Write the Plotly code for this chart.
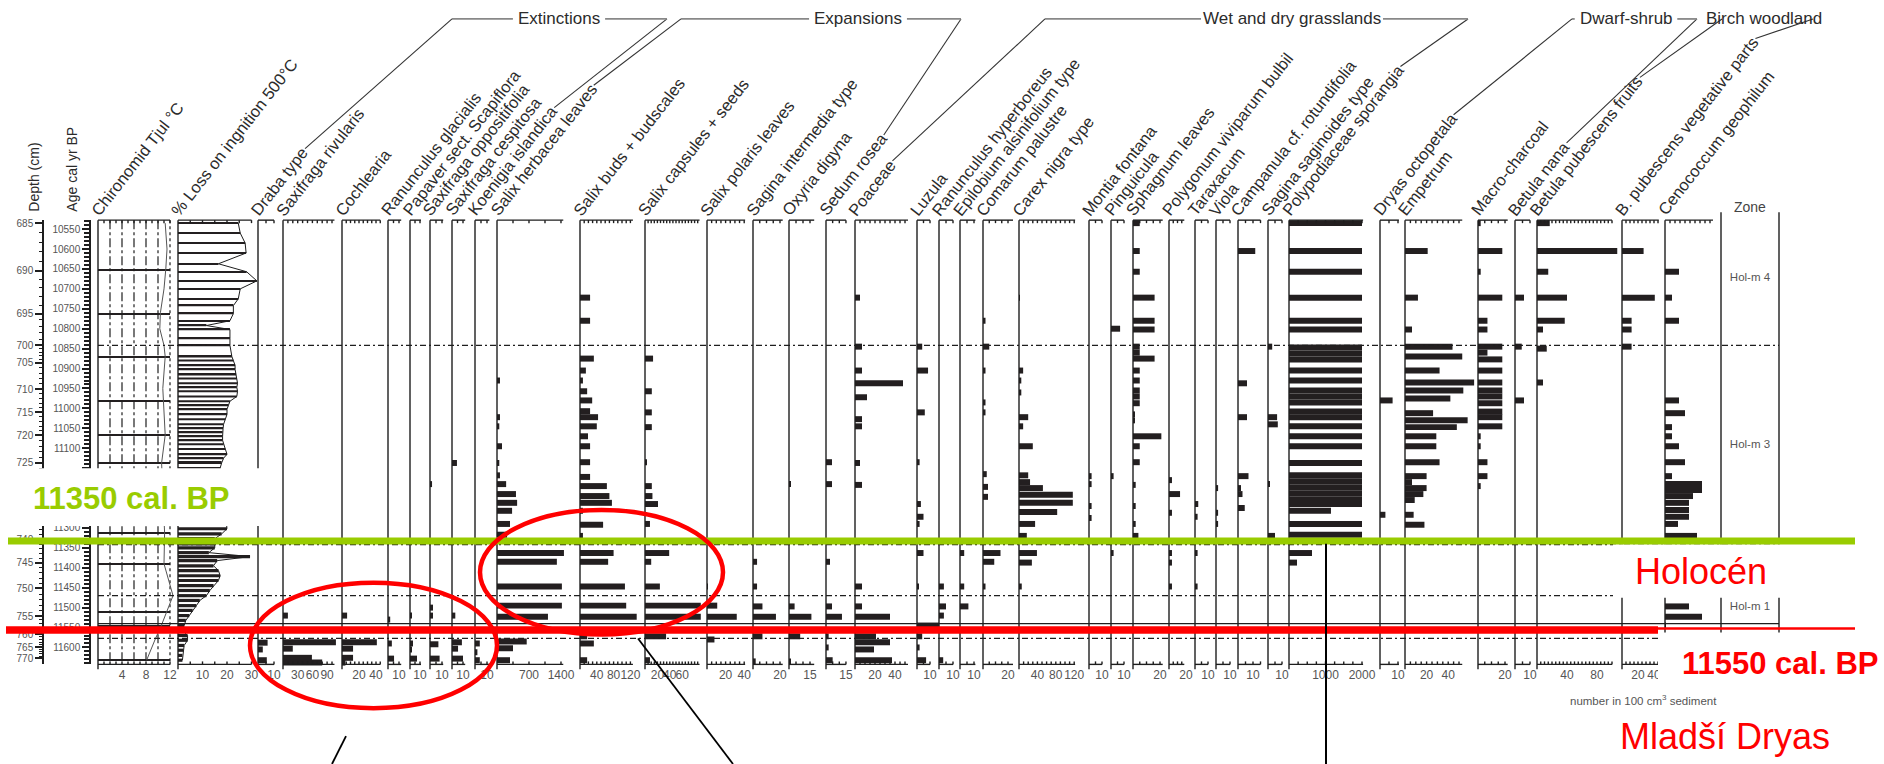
import numpy as np
import plotly.graph_objects as go

# ---------------------------------------------------------------
# Macrofossil record, Holocene / Younger Dryas transition.
# Every record is a list of (age cal yr BP, value) pairs.
# ---------------------------------------------------------------
chironomid_sample_ages = [10652, 10762, 10872, 10982, 11067, 11137, 11312, 11390, 11512, 11547, 11632]
chironomid_curve_ages = [10535, 10600, 10650, 10700, 10760, 10800, 10842, 10870, 10950, 11000,
                         11067, 11137, 11200, 11312, 11390, 11470, 11547, 11577, 11632]
chironomid_curve_temp = [11.2, 11.5, 11.3, 11.0, 10.4, 10.3, 11.0, 11.2, 10.8, 11.0,
                         11.2, 10.6, 10.8, 11.1, 11.0, 12.5, 10.5, 9.6, 8.1]

loi_ages = [10535, 10560, 10585, 10610, 10637, 10657, 10680, 10700, 10725, 10742,
            10762, 10780, 10792, 10802, 10825, 10842, 10870, 10880, 10892, 10902,
            10915, 10925, 10937, 10947, 10957, 10970, 10982, 10992, 11002, 11015,
            11027, 11040, 11050, 11060, 11070, 11080, 11090, 11102, 11115, 11125,
            11137, 11150, 11302, 11315, 11327, 11340, 11350, 11362, 11372, 11382,
            11395, 11407, 11420, 11432, 11445, 11457, 11470, 11482, 11495, 11507,
            11520, 11532, 11545, 11557, 11570, 11582, 11595, 11607, 11620, 11632]
loi_pct = [24.6, 25.4, 27.4, 27.8, 16.5, 28.0, 32.2, 25.4, 24.6, 22.6,
           22.6, 21.2, 11.6, 21.2, 21.2, 21.2, 22.0, 22.6, 23.3, 23.3,
           23.7, 24.0, 24.3, 24.0, 24.3, 24.0, 21.2, 20.6, 20.0, 20.0,
           19.3, 18.6, 18.4, 18.2, 18.2, 18.2, 18.6, 19.3, 20.0, 18.6,
           17.8, 17.2, 20.0, 17.8, 15.0, 15.0, 15.0, 12.6, 29.4, 16.0,
           14.5, 16.5, 17.2, 16.5, 14.5, 13.0, 11.6, 8.9, 7.5, 6.0,
           4.6, 3.2, 2.5, 1.8, 3.9, 3.9, 2.5, 2.2, 1.8, 1.8]

draba_type = [(11588, 6), (11605, 3), (11632, 5.5)]
saxifraga_rivularis = [(11520, 10), (11587, 108), (11603, 20), (11626, 59), (11638, 80)]
cochlearia = [(11520, 6), (11587, 41), (11603, 13), (11626, 13), (11638, 4)]
ranunculus_glacialis = [(11530, 2), (11590, 3.5), (11628, 5.5)]
papaver = [(11520, 2), (11590, 3), (11605, 2), (11628, 7)]
saxifraga_oppositifolia = [(11190, 1.7), (11500, 2.5), (11520, 2.5), (11592, 7), (11628, 8)]
saxifraga_cespitosa = [(11137, 4.5), (11520, 3), (11587, 9), (11603, 5.5), (11628, 10)]
koenigia = [(11590, 4), (11612, 2), (11632, 4)]
salix_herbacea = [(10930, 65), (11022, 65), (11045, 50), (11095, 110), (11137, 50), (11168, 65),
                  (11190, 200), (11215, 415), (11237, 440), (11257, 330), (11290, 285), (11317, 220),
                  (11363, 1465), (11385, 1310), (11447, 1420), (11495, 1420), (11523, 1115),
                  (11585, 650), (11602, 350), (11632, 285)]
salix_buds = [(10722, 24), (10780, 24), (10875, 33), (10905, 14), (10930, 7), (10957, 17), (10980, 29),
              (11007, 24), (11022, 43), (11045, 40), (11070, 19), (11095, 24), (11135, 24), (11172, 24),
              (11195, 64), (11220, 70), (11237, 76), (11257, 7), (11292, 55), (11320, 7), (11363, 80),
              (11385, 67), (11447, 107), (11495, 110), (11523, 135), (11572, 17), (11590, 33), (11632, 17)]
salix_capsules = [(10875, 13), (10957, 11), (11010, 11), (11047, 11), (11135, 3), (11195, 11), (11220, 12),
                  (11240, 21), (11290, 8), (11363, 39), (11385, 10), (11447, 24), (11495, 90), (11523, 90),
                  (11572, 34), (11632, 8)]
salix_polaris = [(11447, 1), (11495, 11), (11523, 32), (11580, 8)]
sagina_intermedia = [(11385, 3), (11447, 3), (11497, 7), (11523, 17), (11572, 7), (11635, 2)]
oxyria = [(11190, 1), (11497, 4), (11523, 16), (11572, 8), (11635, 1)]
sedum = [(11135, 4.5), (11190, 4.5), (11385, 3), (11497, 4.5), (11523, 12), (11572, 2), (11600, 2), (11632, 5)]
poaceae = [(10722, 5), (10845, 7), (10905, 7), (10937, 48), (10972, 12), (11027, 7), (11045, 7), (11137, 5),
           (11192, 7), (11447, 7), (11497, 7), (11523, 35), (11572, 21), (11587, 35), (11605, 19), (11632, 37)]
luzula = [(10845, 4), (10905, 8.5), (11010, 6), (11135, 2), (11240, 3), (11272, 5), (11290, 2), (11363, 5),
          (11447, 1), (11545, 17), (11572, 4), (11600, 2), (11632, 7)]
ranunculus_hyperboreus = [(11447, 3.5), (11497, 5), (11520, 3.5), (11632, 3)]
epilobium = [(11363, 3), (11447, 3), (11497, 6)]
comarum = [(10780, 2), (10845, 5), (10905, 2), (10985, 2), (11010, 2), (11165, 3), (11197, 4), (11222, 4),
           (11363, 14), (11385, 9), (11447, 2)]
carex_nigra = [(10722, 2), (10905, 9), (10930, 5), (10960, 5), (11022, 20), (11045, 9), (11095, 30), (11168, 20),
               (11185, 24), (11200, 52), (11217, 117), (11237, 117), (11260, 83), (11290, 35), (11320, 17),
               (11363, 39), (11387, 28), (11447, 6)]
montia = [(11170, 2), (11190, 2), (11245, 2), (11275, 2)]
pinguicula = [(10800, 7), (11170, 2), (11363, 2)]
sphagnum = [(10535, 5), (10605, 5), (10657, 5), (10722, 16), (10780, 16), (10802, 16), (10845, 5), (10860, 5),
            (10875, 16), (10905, 5), (10930, 5), (10955, 5), (10970, 5), (10987, 5), (11015, 1.5), (11030, 1.5),
            (11070, 21), (11095, 5), (11135, 5), (11192, 2), (11245, 2), (11290, 2), (11320, 4)]
polygonum = [(11180, 3.5), (11215, 13), (11262, 3.5), (11363, 3.5), (11387, 3.5), (11447, 3.5)]
taraxacum = [(11240, 2.5), (11272, 2), (11363, 2), (11447, 2)]
viola = [(11200, 1.5), (11262, 1.5), (11290, 1.5)]
campanula = [(10605, 11.5), (10937, 6), (11022, 6), (11170, 7), (11200, 2), (11215, 3), (11250, 4.5)]
sagina_saginoides = [(10845, 3), (11022, 6.5), (11040, 7), (11190, 1), (11320, 5)]
polypodiaceae = [(10535, 2000), (10605, 2000), (10657, 2000), (10722, 2000), (10780, 2000), (10802, 2000),
                 (10847, 2000), (10862, 2000), (10877, 2000), (10905, 2000), (10930, 2000), (10955, 2000),
                 (10970, 2000), (10985, 2000), (11008, 2000), (11022, 2000), (11045, 2000), (11070, 2000),
                 (11095, 2000), (11137, 2000), (11168, 2000), (11183, 2000), (11198, 2000), (11213, 2000),
                 (11228, 2000), (11240, 2000), (11257, 1150), (11290, 2000), (11317, 2000), (11363, 630),
                 (11387, 220)]
dryas = [(10980, 7), (11267, 3)]
empetrum = [(10605, 21), (10722, 12), (10802, 6.5), (10845, 44), (10870, 53), (10905, 32), (10935, 64),
            (10955, 54), (10975, 42), (11012, 26), (11030, 58), (11047, 48), (11070, 29), (11095, 29),
            (11135, 32), (11170, 20), (11185, 6.5), (11200, 20), (11215, 17), (11230, 9), (11267, 8), (11292, 18)]
macro_charcoal = [(10535, 2), (10605, 18), (10657, 2), (10722, 18), (10780, 7), (10802, 7), (10845, 18),
                  (10860, 7), (10877, 18), (10905, 18), (10935, 18), (10955, 18), (10970, 18), (10987, 18),
                  (11008, 18), (11022, 18), (11045, 18), (11070, 2), (11095, 2), (11135, 7), (11170, 7), (11195, 2)]
betula_nana = [(10722, 6), (10845, 4.5), (10980, 6)]
betula_pub_fruits = [(10535, 17), (10605, 107), (10657, 15), (10722, 40), (10780, 37), (10802, 8), (10850, 13),
                     (10935, 8)]
betula_pub_veg = [(10605, 27), (10722, 41), (10780, 12), (10802, 12), (10845, 12)]
cenococcum = [(10657, 28), (10722, 14), (10780, 28), (10980, 28), (11012, 40), (11047, 14), (11070, 14),
              (11095, 28), (11135, 40), (11170, 14), (11190, 74), (11205, 74), (11220, 56), (11237, 48),
              (11255, 48), (11272, 48), (11290, 26), (11320, 64), (11497, 48), (11523, 74), (11545, 2)]

# depth scale (cm) against age, and age ticks
depth_cm = [685, 690, 695, 700, 705, 710, 715, 720, 725, 730, 735, 740, 745, 750, 755, 760, 765, 770]
depth_age = [10535, 10655, 10762, 10842, 10885, 10952, 11010, 11067, 11137, 11200, 11265, 11330,
             11387, 11452, 11522, 11567, 11600, 11627]
age_ticks = list(range(10550, 11651, 50))

# zonation
zone_dashed_ages = [10842, 11342, 11470, 11577]
zone_solid_ages = [11540]
zone_names = ["Hol-m 4", "Hol-m 3", "Hol-m 1"]
zone_label_ages = [10672, 11092, 11500]

# ---------------------------------------------------------------
# page geometry (pixels) and helpers
# ---------------------------------------------------------------
W, H = 1884, 764
AGE_REF, PX_REF, PX_PER_YR = 10550, 227, 0.4
TOP_PX, BOT_PX = 218, 664
INK = "#1e1e1e"
BAR = "#231f20"
TXT = "#2b2b2b"
FONT = "Liberation Sans, Arial, Helvetica, sans-serif"


def age_at(p):
    return AGE_REF + (p - PX_REF) / PX_PER_YR


def fx(p):
    return p / W


def fy(p):
    return 1 - p / H


AGE_TOP, AGE_BOT = age_at(TOP_PX), age_at(BOT_PX)
BAR_YEARS = 15
# caption box on the left covers this age band
CAPTION_BAND = (age_at(467), age_at(525))

_CW = {' ': 278, 'a': 556, 'b': 556, 'c': 500, 'd': 556, 'e': 556, 'f': 278, 'g': 556, 'h': 556, 'i': 222,
       'j': 222, 'k': 500, 'l': 222, 'm': 833, 'n': 556, 'o': 556, 'p': 556, 'q': 556, 'r': 333, 's': 500,
       't': 278, 'u': 556, 'v': 500, 'w': 722, 'x': 500, 'y': 500, 'z': 500, 'A': 667, 'B': 667, 'C': 722,
       'D': 722, 'E': 667, 'K': 667, 'M': 833, 'O': 778, 'P': 667, 'R': 722, 'S': 667, 'T': 611, 'V': 667,
       '.': 278, '+': 584, '%': 889, '°': 400, '-': 333}


def text_len(s, size):
    return sum(_CW.get(c, 556) for c in s) * size / 1000.0


# panel: label, left edge px, px per unit, axis length, tick step, labelled ticks, record
PANELS = [
    ("Draba type", 258, 1.6, 10, 5, [10], draba_type),
    ("Saxifraga rivularis", 283, 0.49, 105, 10, [30, 60, 90], saxifraga_rivularis),
    ("Cochlearia", 342, 0.85, 45, 5, [20, 40], cochlearia),
    ("Ranunculus glacialis", 388, 1.1, 12, 5, [10], ranunculus_glacialis),
    ("Papaver sect. Scapiflora", 410, 1.0, 11, 5, [10], papaver),
    ("Saxifraga oppositifolia", 430, 1.2, 11, 5, [10], saxifraga_oppositifolia),
    ("Saxifraga cespitosa", 452, 1.1, 12, 5, [10], saxifraga_cespitosa),
    ("Koenigia islandica", 475, 1.2, 12, 5, [10], koenigia),
    ("Salix herbacea leaves", 497, 0.0457, 1450, 350, [700, 1400], salix_herbacea),
    ("Salix buds + budscales", 580, 0.42, 126, 10, [40, 80, 120], salix_buds),
    ("Salix capsules + seeds", 645, 0.62, 88, 5, [20, 40, 60], salix_capsules),
    ("Salix polaris leaves", 707, 0.93, 41, 5, [20, 40], salix_polaris),
    ("Sagina intermedia type", 753, 1.35, 22, 5, [20], sagina_intermedia),
    ("Oxyria digyna", 789, 1.4, 18, 5, [15], oxyria),
    ("Sedum rosea", 826, 1.33, 15, 5, [15], sedum),
    ("Poaceae", 855, 1.0, 53, 5, [20, 40], poaceae),
    ("Luzula", 917, 1.3, 10, 5, [10], luzula),
    ("Ranunculus hyperboreus", 939, 1.4, 10, 5, [10], ranunculus_hyperboreus),
    ("Epilobium alsinifolium type", 960, 1.4, 11, 5, [10], epilobium),
    ("Comarum palustre", 983, 1.25, 24, 5, [20], comarum),
    ("Carex nigra type", 1019, 0.46, 122, 10, [40, 80, 120], carex_nigra),
    ("Montia fontana", 1089, 1.3, 10, 5, [10], montia),
    ("Pinguicula", 1111, 1.3, 10, 5, [10], pinguicula),
    ("Sphagnum leaves", 1133, 1.35, 22, 5, [20], sphagnum),
    ("Polygonum viviparum bulbil", 1169, 0.85, 18, 5, [20], polygonum),
    ("Taraxacum", 1195, 1.3, 10, 5, [10], taraxacum),
    ("Viola", 1216, 1.4, 10, 5, [10], viola),
    ("Campanula cf. rotundifolia", 1238, 1.5, 15, 5, [10], campanula),
    ("Sagina saginoides type", 1268, 1.4, 10, 5, [10], sagina_saginoides),
    ("Polypodiaceae sporangia", 1289, 0.0365, 2030, 250, [1000, 2000], polypodiaceae),
    ("Dryas octopetala", 1380, 1.8, 10.5, 5, [10], dryas),
    ("Empetrum", 1405, 1.08, 53, 5, [20, 40], empetrum),
    ("Macro-charcoal", 1478, 1.35, 22, 5, [20], macro_charcoal),
    ("Betula nana", 1515, 1.5, 10, 5, [10], betula_nana),
    ("Betula pubescens fruits", 1537, 0.75, 100, 5, [40, 80], betula_pub_fruits),
    ("B. pubescens vegetative parts", 1622, 0.8, 46, 5, [20, 40], betula_pub_veg),
    ("Cenococcum geophilum", 1665, 0.5, 96, 10, [], cenococcum),
]
CHIRO = ("Chironomid Tjul °C", 98, 6.0, 12, 1, [4, 8, 12])
LOI = ("% Loss on ingnition 500°C", 178, 2.45, 30, 5, [10, 20, 30])
ZONE_LEFT, ZONE_RIGHT = 1721, 1779

GROUPS = [  # title, title centre px, left top px, right top px, first label, last label
    ("Extinctions", 559, 452, 667, "Draba type", "Koenigia islandica"),
    ("Expansions", 858, 681, 961, "Salix herbacea leaves", "Sedum rosea"),
    ("Wet and dry grasslands", 1292, 1045, 1468, "Poaceae", "Polypodiaceae sporangia"),
    ("Dwarf-shrub", 1626, 1572, 1697, "Dryas octopetala", "Betula nana"),
    ("Birch woodland", 1764, 1722, 1813, "Betula pubescens fruits", "B. pubescens vegetative parts"),
]

LABEL_FONT = 16.5
HEAD_FONT = 17
THETA = np.radians(52)
LABEL_Y = 218

fig = go.Figure()
axes = {}
annotations = []
shapes = []


def xname(k):
    return "x" if k == 1 else f"x{k}"


def xkey(k):
    return "xaxis" if k == 1 else f"xaxis{k}"


def add_axis(k, left, scale):
    axes[xkey(k)] = dict(domain=[0, 1], range=[-left / scale, (W - left) / scale], anchor="y",
                         visible=False, fixedrange=True)


def add_frame(k, length, step, labelled):
    tick = 3 / PX_PER_YR
    xs, ys = [0, 0, None], [AGE_TOP, age_at(BOT_PX + 5), None]
    xs += [0, length, None, 0, length, None]
    ys += [AGE_TOP, AGE_TOP, None, AGE_BOT, AGE_BOT, None]
    for t in np.arange(step, length + 1e-9, step):
        xs += [t, t, None, t, t, None]
        ys += [AGE_TOP, AGE_TOP + tick, None, AGE_BOT, AGE_BOT - tick, None]
    fig.add_trace(go.Scatter(x=xs, y=ys, mode="lines", line=dict(color=INK, width=1.4),
                             xaxis=xname(k), yaxis="y", hoverinfo="skip"))
    if labelled:
        fig.add_trace(go.Scatter(x=labelled, y=[age_at(676)] * len(labelled), mode="text",
                                 text=[f"{v:g}" for v in labelled],
                                 textfont=dict(size=12, color="#555", family=FONT),
                                 xaxis=xname(k), yaxis="y", hoverinfo="skip"))


def add_bars(k, ages, vals, width=BAR_YEARS):
    fig.add_trace(go.Bar(x=vals, y=ages, orientation="h", base=0, width=width,
                         marker=dict(color=BAR, line=dict(width=0)),
                         xaxis=xname(k), yaxis="y", hoverinfo="skip"))


def ann(text, x, y, size, color=TXT, xanchor="center", yanchor="middle", **kw):
    d = dict(text=text, x=x, y=y, xref="paper", yref="paper", showarrow=False,
             xanchor=xanchor, yanchor=yanchor, font=dict(size=size, color=color, family=FONT))
    d.update(kw)
    annotations.append(d)


label_end = {}


def add_label(text, left):
    h = 1.15 * LABEL_FONT
    L = text_len(text, LABEL_FONT)
    x0 = left + 3
    ann(text, fx(x0 - h * np.sin(THETA)), fy(LABEL_Y), LABEL_FONT, xanchor="left", yanchor="bottom",
        textangle=-np.degrees(THETA), borderpad=0)
    mx = x0 - 0.5 * h * np.sin(THETA) + (L + 3) * np.cos(THETA)
    my = LABEL_Y - 0.5 * h * np.cos(THETA) - (L + 3) * np.sin(THETA)
    label_end[text] = (mx, my)


def visible_label(age, text):
    return "" if CAPTION_BAND[0] <= age <= CAPTION_BAND[1] else text


# --- chironomid panel ---
k = 1
name, left, scale, length, step, lab = CHIRO
add_axis(k, left, scale)
add_frame(k, length, step, lab)
add_bars(k, chironomid_sample_ages, [12] * len(chironomid_sample_ages), width=2.5)
for g in [2, 4, 6, 8, 10]:
    fig.add_trace(go.Scatter(x=[g, g], y=[AGE_TOP, AGE_BOT], mode="lines",
                             line=dict(color=INK, width=1.2, dash="dashdot"),
                             xaxis=xname(k), yaxis="y", hoverinfo="skip"))
fig.add_trace(go.Scatter(x=[12, 12], y=[AGE_TOP, AGE_BOT], mode="lines",
                         line=dict(color=INK, width=1.2, dash="dot"),
                         xaxis=xname(k), yaxis="y", hoverinfo="skip"))
fig.add_trace(go.Scatter(x=chironomid_curve_temp, y=chironomid_curve_ages, mode="lines",
                         line=dict(color="#555", width=1), xaxis=xname(k), yaxis="y", hoverinfo="skip"))
add_label(name, left)

# --- loss on ignition panel ---
k = 2
name, left, scale, length, step, lab = LOI
add_axis(k, left, scale)
add_frame(k, length, step, lab)
loi_w = [3.5 if a < 10850 else (5 if a < 11200 else 8) for a in loi_ages]
add_bars(k, loi_ages, loi_pct, width=loi_w)
fig.add_trace(go.Scatter(x=loi_pct, y=loi_ages, mode="lines", line=dict(color=INK, width=1),
                         xaxis=xname(k), yaxis="y", hoverinfo="skip"))
add_label(name, left)

# --- taxon panels ---
for i, (name, left, scale, length, step, lab, rec) in enumerate(PANELS):
    k = i + 3
    add_axis(k, left, scale)
    add_frame(k, length, step, lab)
    add_bars(k, [a for a, _ in rec], [v for _, v in rec])
    add_label(name, left)

# --- zone column (own axis, one unit per pixel) ---
kz = len(PANELS) + 3
add_axis(kz, ZONE_LEFT, 1.0)
zw = ZONE_RIGHT - ZONE_LEFT
fig.add_trace(go.Scatter(x=[0, 0, None, zw, zw], y=[age_at(210), AGE_BOT, None, age_at(210), AGE_BOT],
                         mode="lines", line=dict(color=INK, width=1.4), xaxis=xname(kz), yaxis="y",
                         hoverinfo="skip"))
fig.add_trace(go.Scatter(x=[zw / 2] * len(zone_names), y=zone_label_ages, mode="text", text=zone_names,
                         textfont=dict(size=11.5, color="#555", family=FONT), xaxis=xname(kz), yaxis="y",
                         hoverinfo="skip"))
ann("Zone", fx(ZONE_LEFT + zw / 2), fy(205), 14, color="#444")

# helper traces so the age and depth axes are drawn
for yn in ["y2", "y3", "y4"]:
    fig.add_trace(go.Scatter(x=[0], y=[11000], mode="markers", marker=dict(opacity=0),
                             xaxis="x", yaxis=yn, hoverinfo="skip"))

depth_minor = np.arange(685, 771)
depth_minor_age = np.interp(depth_minor, depth_cm, depth_age)

axes["yaxis"] = dict(domain=[0, 1], range=[age_at(H), age_at(0)], visible=False, fixedrange=True)
axes["yaxis2"] = dict(domain=[fy(BOT_PX), fy(TOP_PX)], range=[AGE_BOT, AGE_TOP], anchor="free",
                      position=fx(90), side="left", showline=True, linecolor=INK, linewidth=1.5,
                      ticks="outside", ticklen=7, tickwidth=1.5, tickcolor=INK,
                      tickvals=age_ticks, ticktext=[visible_label(a, str(a)) for a in age_ticks],
                      tickfont=dict(size=10, color="#555", family=FONT),
                      minor=dict(ticks="outside", ticklen=5, tickwidth=1.5, tickcolor=INK,
                                 tick0=10550, dtick=10),
                      showgrid=False, zeroline=False, fixedrange=True)
axes["yaxis3"] = dict(overlaying="y2", range=[AGE_BOT, AGE_TOP], anchor="free", position=fx(43),
                      side="left", showline=True, linecolor=INK, linewidth=1.5,
                      ticks="outside", ticklen=7, tickwidth=1.5, tickcolor=INK,
                      tickvals=depth_age, ticktext=[visible_label(a, str(d)) for a, d in zip(depth_age, depth_cm)],
                      tickfont=dict(size=10, color="#555", family=FONT),
                      showgrid=False, zeroline=False, fixedrange=True)
axes["yaxis4"] = dict(overlaying="y2", range=[AGE_BOT, AGE_TOP], anchor="free", position=fx(43),
                      side="left", showline=False, ticks="outside", ticklen=4, tickwidth=1, tickcolor=INK,
                      tickvals=list(depth_minor_age), showticklabels=False,
                      showgrid=False, zeroline=False, fixedrange=True)

# --- zone boundaries across the diagram ---
for za in zone_dashed_ages:
    shapes.append(dict(type="line", xref="paper", yref="y", x0=fx(98), x1=fx(ZONE_RIGHT), y0=za, y1=za,
                       line=dict(color=INK, width=1.3, dash="6px,3px,2px,3px")))
for za in zone_solid_ages:
    shapes.append(dict(type="line", xref="paper", yref="y", x0=fx(98), x1=fx(ZONE_RIGHT), y0=za, y1=za,
                       line=dict(color=INK, width=1.3)))

# --- group headers with leader lines ---
for title, cx, ltop, rtop, first, last in GROUPS:
    tw = text_len(title, HEAD_FONT)
    ann(title, fx(cx), fy(16), HEAD_FONT)
    for lbl, xt in ((first, ltop), (last, rtop)):
        ex, ey = label_end[lbl]
        shapes.append(dict(type="line", xref="paper", yref="paper", x0=fx(ex), y0=fy(ey), x1=fx(xt), y1=fy(16),
                           line=dict(color="#333", width=1.1)))
    if ltop < cx - tw / 2 - 5:
        shapes.append(dict(type="line", xref="paper", yref="paper", x0=fx(ltop), x1=fx(cx - tw / 2 - 5),
                           y0=fy(16), y1=fy(16), line=dict(color="#888", width=1.8)))
    if rtop > cx + tw / 2 + 5:
        shapes.append(dict(type="line", xref="paper", yref="paper", x0=fx(cx + tw / 2 + 5), x1=fx(rtop),
                           y0=fy(16), y1=fy(16), line=dict(color="#888", width=1.8)))

# axis titles and footnote
ann("Depth (cm)", fx(34), fy(212), 14, yanchor="bottom", textangle=-90)
ann("Age cal yr BP", fx(72), fy(212), 14, yanchor="bottom", textangle=-90)
ann("number in 100 cm<sup>3</sup> sediment", fx(1643), fy(700), 11.5, color="#555")

# --- highlights: boundary lines, circled groups, captions ---
WHITE = dict(color="white", width=0)
shapes += [
    dict(type="rect", xref="paper", yref="paper", x0=fx(0), x1=fx(268), y0=fy(467), y1=fy(525),
         fillcolor="white", line=WHITE),
    dict(type="rect", xref="paper", yref="paper", x0=fx(1613), x1=fx(W), y0=fy(543.5), y1=fy(597),
         fillcolor="white", line=WHITE),
    dict(type="rect", xref="paper", yref="paper", x0=fx(1658), x1=fx(W), y0=fy(632), y1=fy(690),
         fillcolor="white", line=WHITE),
    dict(type="line", xref="paper", yref="paper", x0=fx(8), x1=fx(1855), y0=fy(540), y1=fy(540),
         line=dict(color="#99cc00", width=7)),
    dict(type="line", xref="paper", yref="paper", x0=fx(1650), x1=fx(1855), y0=fy(628), y1=fy(628),
         line=dict(color="#ff0000", width=2.5)),
    dict(type="line", xref="paper", yref="paper", x0=fx(6), x1=fx(1658), y0=fy(629.5), y1=fy(629.5),
         line=dict(color="#ff0000", width=7.5)),
    dict(type="circle", xref="paper", yref="paper", x0=fx(250), x1=fx(497), y0=fy(582), y1=fy(708),
         line=dict(color="#ff0000", width=4.5)),
    dict(type="circle", xref="paper", yref="paper", x0=fx(480), x1=fx(723), y0=fy(509), y1=fy(634),
         line=dict(color="#ff0000", width=4.5)),
    dict(type="line", xref="paper", yref="paper", x0=fx(346), x1=fx(332), y0=fy(736), y1=fy(764),
         line=dict(color="black", width=1.8)),
    dict(type="line", xref="paper", yref="paper", x0=fx(638), x1=fx(733), y0=fy(638), y1=fy(764),
         line=dict(color="black", width=1.8)),
    dict(type="line", xref="paper", yref="paper", x0=fx(1326), x1=fx(1326), y0=fy(543), y1=fy(764),
         line=dict(color="black", width=2)),
]
ann("<b>11350 cal. BP</b>", fx(131), fy(497), 31, color="#99cc00")
ann("<b>11550 cal. BP</b>", fx(1780), fy(663), 31, color="#ff0000")
ann("Holocén", fx(1701), fy(571), 36, color="#ff0000")
ann("Mladší Dryas", fx(1725), fy(736), 36, color="#ff0000")

fig.update_layout(width=W, height=H, margin=dict(l=0, r=0, t=0, b=0), paper_bgcolor="white",
                  plot_bgcolor="rgba(0,0,0,0)", showlegend=False, barmode="overlay",
                  shapes=shapes, annotations=annotations, **axes)
fig.write_html("out.html")
